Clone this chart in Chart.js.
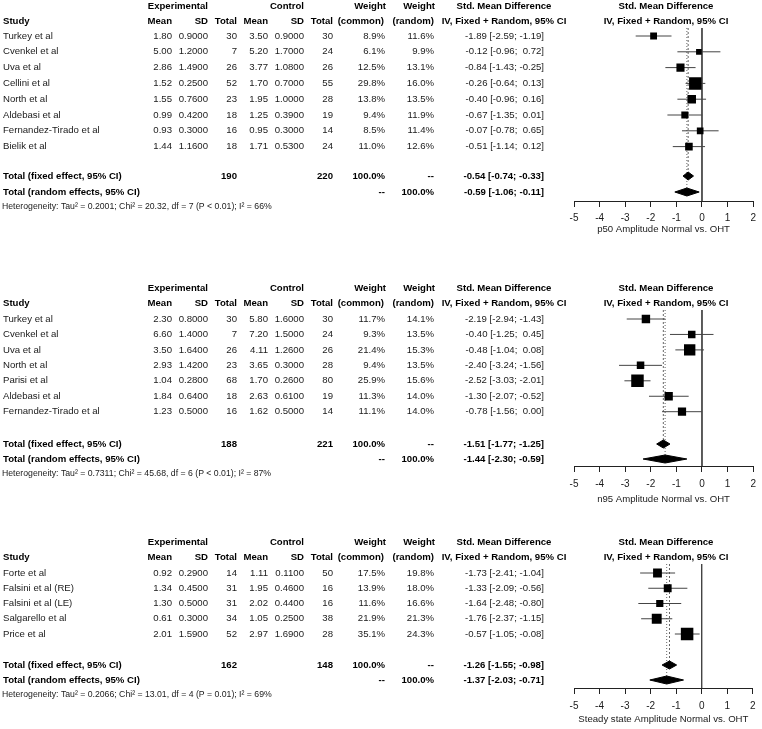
<!DOCTYPE html>
<html>
<head>
<meta charset="utf-8">
<script src="https://cdn.jsdelivr.net/npm/chart.js@4.4.0/dist/chart.umd.min.js"></script>
<style>
  html, body { margin: 0; padding: 0; background: #fff; }
  body { width: 762px; height: 729px; position: relative; overflow: hidden; }
  canvas { position: absolute; left: 0; }
</style>
</head>
<body>
<canvas id="p50" width="762" height="242" style="top:0px"></canvas>
<canvas id="n95" width="762" height="263" style="top:242px"></canvas>
<canvas id="ss" width="762" height="224" style="top:505px"></canvas>
<script>
// ---- p50 amplitude ----
const p50Studies = ['Turkey et al', 'Cvenkel et al', 'Uva et al', 'Cellini et al', 'North et al', 'Aldebasi et al', 'Fernandez-Tirado et al', 'Bielik et al'];
const p50ExpMean = [1.80, 5.00, 2.86, 1.52, 1.55, 0.99, 0.93, 1.44];
const p50ExpSd = [0.90, 1.20, 1.49, 0.25, 0.76, 0.42, 0.30, 1.16];
const p50ExpN = [30, 7, 26, 52, 23, 18, 16, 18];
const p50CtlMean = [3.50, 5.20, 3.77, 1.70, 1.95, 1.25, 0.95, 1.71];
const p50CtlSd = [0.90, 1.70, 1.08, 0.70, 1.00, 0.39, 0.30, 0.53];
const p50CtlN = [30, 24, 26, 55, 28, 19, 14, 24];
const p50WCommon = [8.9, 6.1, 12.5, 29.8, 13.8, 9.4, 8.5, 11.0];
const p50WRandom = [11.6, 9.9, 13.1, 16.0, 13.5, 11.9, 11.4, 12.6];
const p50Smd = [-1.89, -0.12, -0.84, -0.26, -0.40, -0.67, -0.07, -0.51];
const p50Lower = [-2.59, -0.96, -1.43, -0.64, -0.96, -1.35, -0.78, -1.14];
const p50Upper = [-1.19, 0.72, -0.25, 0.13, 0.16, 0.01, 0.65, 0.12];
const p50Totals = [190, 220];
const p50Fixed = [-0.54, -0.74, -0.33];
const p50Random = [-0.59, -1.06, -0.11];
const p50Het = 'Heterogeneity: Tau² = 0.2001; Chi² = 20.32, df = 7 (P < 0.01); I² = 66%';

// ---- n95 amplitude ----
const n95Studies = ['Turkey et al', 'Cvenkel et al', 'Uva et al', 'North et al', 'Parisi et al', 'Aldebasi et al', 'Fernandez-Tirado et al'];
const n95ExpMean = [2.30, 6.60, 3.50, 2.93, 1.04, 1.84, 1.23];
const n95ExpSd = [0.80, 1.40, 1.64, 1.42, 0.28, 0.64, 0.50];
const n95ExpN = [30, 7, 26, 23, 68, 18, 16];
const n95CtlMean = [5.80, 7.20, 4.11, 3.65, 1.70, 2.63, 1.62];
const n95CtlSd = [1.60, 1.50, 1.26, 0.30, 0.26, 0.61, 0.50];
const n95CtlN = [30, 24, 26, 28, 80, 19, 14];
const n95WCommon = [11.7, 9.3, 21.4, 9.4, 25.9, 11.3, 11.1];
const n95WRandom = [14.1, 13.5, 15.3, 13.5, 15.6, 14.0, 14.0];
const n95Smd = [-2.19, -0.40, -0.48, -2.40, -2.52, -1.30, -0.78];
const n95Lower = [-2.94, -1.25, -1.04, -3.24, -3.03, -2.07, -1.56];
const n95Upper = [-1.43, 0.45, 0.08, -1.56, -2.01, -0.52, 0.00];
const n95Totals = [188, 221];
const n95Fixed = [-1.51, -1.77, -1.25];
const n95Random = [-1.44, -2.30, -0.59];
const n95Het = 'Heterogeneity: Tau² = 0.7311; Chi² = 45.68, df = 6 (P < 0.01); I² = 87%';

// ---- steady state amplitude ----
const ssStudies = ['Forte et al', 'Falsini et al (RE)', 'Falsini et al (LE)', 'Salgarello et al', 'Price et al'];
const ssExpMean = [0.92, 1.34, 1.30, 0.61, 2.01];
const ssExpSd = [0.29, 0.45, 0.50, 0.30, 1.59];
const ssExpN = [14, 31, 31, 34, 52];
const ssCtlMean = [1.11, 1.95, 2.02, 1.05, 2.97];
const ssCtlSd = [0.11, 0.46, 0.44, 0.25, 1.69];
const ssCtlN = [50, 16, 16, 38, 28];
const ssWCommon = [17.5, 13.9, 11.6, 21.9, 35.1];
const ssWRandom = [19.8, 18.0, 16.6, 21.3, 24.3];
const ssSmd = [-1.73, -1.33, -1.64, -1.76, -0.57];
const ssLower = [-2.41, -2.09, -2.48, -2.37, -1.05];
const ssUpper = [-1.04, -0.56, -0.80, -1.15, -0.08];
const ssTotals = [162, 148];
const ssFixed = [-1.26, -1.55, -0.98];
const ssRandom = [-1.37, -2.03, -0.71];
const ssHet = 'Heterogeneity: Tau² = 0.2066; Chi² = 13.01, df = 4 (P = 0.01); I² = 69%';

const xTicks = [-5, -4, -3, -2, -1, 0, 1, 2];
const axisTitles = ['p50 Amplitude Normal vs. OHT', 'n95 Amplitude Normal vs. OHT', 'Steady state Amplitude Normal vs. OHT'];

const FONT = '"Liberation Sans", Arial, Helvetica, sans-serif';
const FS = 9.6;

// page positions of each panel (pixels)
const layouts = [
  {top: 0, height: 242, row0: 36, step: 15.8, lineTop: 28, axisY: 201, tickPad: 6, titleY: 229, head1: 6, head2: 21, fixedY: 176, randomY: 192, hetY: 207},
  {top: 242, height: 263, row0: 319, step: 15.45, lineTop: 310, axisY: 466, tickPad: 7, titleY: 499, head1: 288, head2: 303, fixedY: 444, randomY: 459, hetY: 474},
  {top: 505, height: 224, row0: 573, step: 15.25, lineTop: 564, axisY: 688, tickPad: 7.5, titleY: 719, head1: 542, head2: 557, fixedY: 665, randomY: 680, hetY: 695}
];

const col = {study: 3, eMean: 172, eSd: 208, eN: 237, cMean: 268, cSd: 304, cN: 333, wC: 385, wR: 434, smd: 544, smdHead: 504, plotHead: 666};

function ciText(est, lo, hi) {
  return est.toFixed(2) + ' [' + lo.toFixed(2) + ';' + (hi < 0 ? ' ' : '  ') + hi.toFixed(2) + ']';
}

function drawTable(chart, L, d) {
  const ctx = chart.ctx;
  const ys = chart.scales.y;
  const toRow = y => (y - L.row0) / L.step;
  ctx.save();
  ctx.textBaseline = 'middle';
  function put(t, x, r, align, bold, size) {
    ctx.font = (bold ? 'bold ' : '') + (size || FS) + 'px ' + FONT;
    ctx.fillStyle = bold ? '#000' : '#1a1a1a';
    ctx.textAlign = align || 'right';
    ctx.fillText(t, x, ys.getPixelForValue(r));
  }
  const h1 = toRow(L.head1), h2 = toRow(L.head2);
  put('Experimental', col.eSd, h1, 'right', true);
  put('Control', col.cSd, h1, 'right', true);
  put('Weight', col.wC + 1, h1, 'right', true);
  put('Weight', col.wR + 1, h1, 'right', true);
  put('Std. Mean Difference', col.smdHead, h1, 'center', true);
  put('Std. Mean Difference', col.plotHead, h1, 'center', true);
  put('Study', col.study, h2, 'left', true);
  put('Mean', col.eMean, h2, 'right', true);
  put('SD', col.eSd, h2, 'right', true);
  put('Total', col.eN, h2, 'right', true);
  put('Mean', col.cMean, h2, 'right', true);
  put('SD', col.cSd, h2, 'right', true);
  put('Total', col.cN, h2, 'right', true);
  put('(common)', col.wC - 1, h2, 'right', true);
  put('(random)', col.wR, h2, 'right', true);
  put('IV, Fixed + Random, 95% CI', col.smdHead, h2, 'center', true);
  put('IV, Fixed + Random, 95% CI', col.plotHead, h2, 'center', true);

  d.studies.forEach((s, i) => {
    put(s, col.study, i, 'left');
    put(d.expMean[i].toFixed(2), col.eMean, i);
    put(d.expSd[i].toFixed(4), col.eSd, i);
    put(String(d.expN[i]), col.eN, i);
    put(d.ctlMean[i].toFixed(2), col.cMean, i);
    put(d.ctlSd[i].toFixed(4), col.cSd, i);
    put(String(d.ctlN[i]), col.cN, i);
    put(d.wCommon[i].toFixed(1) + '%', col.wC, i);
    put(d.wRandom[i].toFixed(1) + '%', col.wR, i);
    put(ciText(d.smd[i], d.lower[i], d.upper[i]), col.smd, i);
  });

  const rf = toRow(L.fixedY), rr = toRow(L.randomY);
  put('Total (fixed effect, 95% CI)', col.study, rf, 'left', true);
  put(String(d.totals[0]), col.eN, rf, 'right', true);
  put(String(d.totals[1]), col.cN, rf, 'right', true);
  put('100.0%', col.wC, rf, 'right', true);
  put('--', col.wR, rf, 'right', true);
  put(ciText(d.fixed[0], d.fixed[1], d.fixed[2]), col.smd, rf, 'right', true);
  put('Total (random effects, 95% CI)', col.study, rr, 'left', true);
  put('--', col.wC, rr, 'right', true);
  put('100.0%', col.wR, rr, 'right', true);
  put(ciText(d.random[0], d.random[1], d.random[2]), col.smd, rr, 'right', true);
  put(d.het, 2, toRow(L.hetY), 'left', false, 8.7);
  ctx.restore();
}

function buildPanel(id, L, d, title) {
  const toRow = y => (y - L.row0) / L.step;
  const top = toRow(L.lineTop), bot = toRow(L.axisY);
  const rf = toRow(L.fixedY), rr = toRow(L.randomY);
  const dh = 4 / L.step;
  const wMax = Math.max(...d.wCommon);
  const radii = d.wCommon.map(w => 12.5 * Math.sqrt(w / wMax) / Math.SQRT2);
  const datasets = [];

  datasets.push({
    data: d.smd.map((v, i) => ({x: v, y: i})),
    pointStyle: 'rect', pointRadius: radii, pointHoverRadius: radii,
    backgroundColor: '#000', borderWidth: 0, showLine: false, order: 1
  });
  [[d.fixed, rf], [d.random, rr]].forEach(([c, r]) => {
    datasets.push({
      data: [{x: c[1], y: r}, {x: c[0], y: r - dh}, {x: c[2], y: r}, {x: c[0], y: r + dh}, {x: c[1], y: r}],
      showLine: true, fill: 'shape', backgroundColor: '#000', borderColor: '#000',
      borderWidth: 1, pointRadius: 0, order: 1
    });
  });
  d.lower.forEach((lo, i) => {
    datasets.push({
      data: [{x: lo, y: i}, {x: d.upper[i], y: i}],
      showLine: true, borderColor: '#444', borderWidth: 1, pointRadius: 0, order: 2
    });
  });
  datasets.push({data: [{x: 0, y: top}, {x: 0, y: bot}], showLine: true, borderColor: '#444', borderWidth: 1, pointRadius: 0, order: 3});
  datasets.push({data: [{x: d.fixed[0], y: top}, {x: d.fixed[0], y: rf}], showLine: true, borderColor: '#666', borderWidth: 1, borderDash: [2, 2], pointRadius: 0, order: 3});
  datasets.push({data: [{x: d.random[0], y: top}, {x: d.random[0], y: rr}], showLine: true, borderColor: '#666', borderWidth: 1, borderDash: [1, 2], pointRadius: 0, order: 3});

  return new Chart(document.getElementById(id), {
    type: 'scatter',
    data: {datasets},
    options: {
      responsive: false,
      animation: false,
      events: [],
      layout: {padding: {left: 574, right: 4, top: L.lineTop - L.top, bottom: 0}},
      plugins: {legend: {display: false}, tooltip: {enabled: false}},
      scales: {
        x: {
          type: 'linear', min: -5, max: 2,
          afterBuildTicks: s => { s.ticks = xTicks.map(v => ({value: v})); },
          afterFit: s => { s.height = L.top + L.height - L.axisY; },
          grid: {drawOnChartArea: false, drawTicks: true, tickLength: 6, color: '#222'},
          border: {display: true, color: '#222'},
          ticks: {padding: L.tickPad - 1, color: '#1a1a1a', font: {family: FONT, size: 10}},
          title: {display: true, text: title, color: '#1a1a1a', font: {family: FONT, size: FS},
                  padding: {top: 0, bottom: L.top + L.height - L.titleY - FS * 0.6}}
        },
        y: {type: 'linear', display: false, reverse: true, min: top, max: bot}
      }
    },
    plugins: [{id: 'table_' + id, afterDraw: c => drawTable(c, L, d)}]
  });
}

buildPanel('p50', layouts[0], {
  studies: p50Studies, expMean: p50ExpMean, expSd: p50ExpSd, expN: p50ExpN,
  ctlMean: p50CtlMean, ctlSd: p50CtlSd, ctlN: p50CtlN, wCommon: p50WCommon, wRandom: p50WRandom,
  smd: p50Smd, lower: p50Lower, upper: p50Upper, totals: p50Totals, fixed: p50Fixed, random: p50Random, het: p50Het
}, axisTitles[0]);

buildPanel('n95', layouts[1], {
  studies: n95Studies, expMean: n95ExpMean, expSd: n95ExpSd, expN: n95ExpN,
  ctlMean: n95CtlMean, ctlSd: n95CtlSd, ctlN: n95CtlN, wCommon: n95WCommon, wRandom: n95WRandom,
  smd: n95Smd, lower: n95Lower, upper: n95Upper, totals: n95Totals, fixed: n95Fixed, random: n95Random, het: n95Het
}, axisTitles[1]);

buildPanel('ss', layouts[2], {
  studies: ssStudies, expMean: ssExpMean, expSd: ssExpSd, expN: ssExpN,
  ctlMean: ssCtlMean, ctlSd: ssCtlSd, ctlN: ssCtlN, wCommon: ssWCommon, wRandom: ssWRandom,
  smd: ssSmd, lower: ssLower, upper: ssUpper, totals: ssTotals, fixed: ssFixed, random: ssRandom, het: ssHet
}, axisTitles[2]);
</script>
</body>
</html>
